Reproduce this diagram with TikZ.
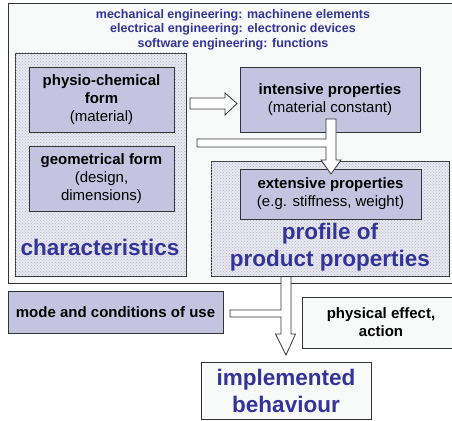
\documentclass[tikz,border=0pt]{standalone}
\usepackage{fontspec}
\setmainfont{Liberation Sans}
\usetikzlibrary{patterns,shadows}
\definecolor{lav}{HTML}{C4C4E0}
\definecolor{tblue}{HTML}{333399}
\definecolor{bgc}{HTML}{F8F9F9}
\definecolor{hatchbg}{HTML}{E8E8F0}
\definecolor{hatchfg}{HTML}{B4B4CC}
\definecolor{edge}{HTML}{333333}
\begin{document}
\begin{tikzpicture}[x=1pt,y=-1pt,
  box/.style={draw=edge, line width=0.8pt, fill=lav, inner sep=0pt, align=center,
    font=\fontsize{15}{18}\selectfont, drop shadow={shadow xshift=1pt, shadow yshift=-1pt, fill=gray!60, opacity=1}},
  wbox/.style={box, fill=bgc},
  hatchbox/.style={draw=edge, line width=0.8pt, fill=hatchbg, inner sep=0pt,
    postaction={pattern=crosshatch dots, pattern color=hatchfg}},
  bigtext/.style={text=tblue, align=center, font=\fontsize{22.5}{26.5}\selectfont\bfseries},
  barrow/.style={draw=edge, fill=white, line width=0.8pt, line join=miter}]
\useasboundingbox (0,0) rectangle (452,420);
\fill[white] (0,0) rectangle (452,420);
% outer frame
\node[draw=edge, line width=0.9pt, fill=bgc, minimum width=452pt, minimum height=280pt, inner sep=0pt] (frame) at (234,143) {};
\node[text=tblue, align=center, font=\fontsize{12.5}{14.6}\selectfont\bfseries] (title) at (233,29.5)
  {mechanical engineering: machinene elements\\electrical engineering: electronic devices\\software engineering: functions};
% hatched groups
\node[hatchbox, minimum width=171pt, minimum height=223pt] (char) at (100.5,164.5) {};
\node[hatchbox, minimum width=238pt, minimum height=115pt] (profile) at (330,218.5) {};
% inner boxes
\node[box, minimum width=145pt, minimum height=65pt] (physio) at (101.5,99.5)
  {\textbf{physio-chemical}\\\textbf{form}\\(material)};
\node[box, minimum width=145pt, minimum height=65pt] (geom) at (101.5,178.5)
  {\textbf{geometrical form}\\(design,\\dimensions)};
\node[box, minimum width=180pt, minimum height=65pt] (intens) at (330,99.5)
  {\textbf{intensive properties}\\(material constant)};
\node[box, minimum width=181pt, minimum height=50pt] (extens) at (330.5,194)
  {\textbf{extensive properties}\\(e.g. stiffness, weight)};
\node[bigtext] (chartext) at (100,247) {characteristics};
\node[bigtext] (proftext) at (330,247) {profile of\\product properties};
% lower boxes
\node[box, minimum width=215pt, minimum height=42pt, font=\fontsize{15}{18}\selectfont\bfseries] (mode) at (115.5,312)
  {mode and conditions of use};
\node[wbox, minimum width=158pt, minimum height=51pt, font=\fontsize{15}{18}\selectfont\bfseries] (phys) at (381,322.5)
  {physical effect,\\action};
\node[wbox, minimum width=170pt, minimum height=57pt, font=\fontsize{22.5}{27}\selectfont\bfseries, text=tblue] (impl) at (286,390.5)
  {implemented\\behaviour};
% block arrows
\draw[barrow] (190,98) -- (225,98) -- (225,93) -- (237,103.5) -- (225,115) -- (225,109) -- (190,109) -- cycle;
\draw[barrow] (197,139) -- (326,139) -- (326,119) -- (336,119) -- (336,160) -- (341,160) -- (331,174)
  -- (321,160) -- (326,160) -- (326,147) -- (197,147) -- cycle;
\draw[barrow] (230,310) -- (281,310) -- (281,276.5) -- (291,276.5) -- (291,334) -- (295.5,334) -- (286,355)
  -- (275.5,334) -- (281,334) -- (281,317) -- (230,317) -- cycle;
\end{tikzpicture}
\end{document}
